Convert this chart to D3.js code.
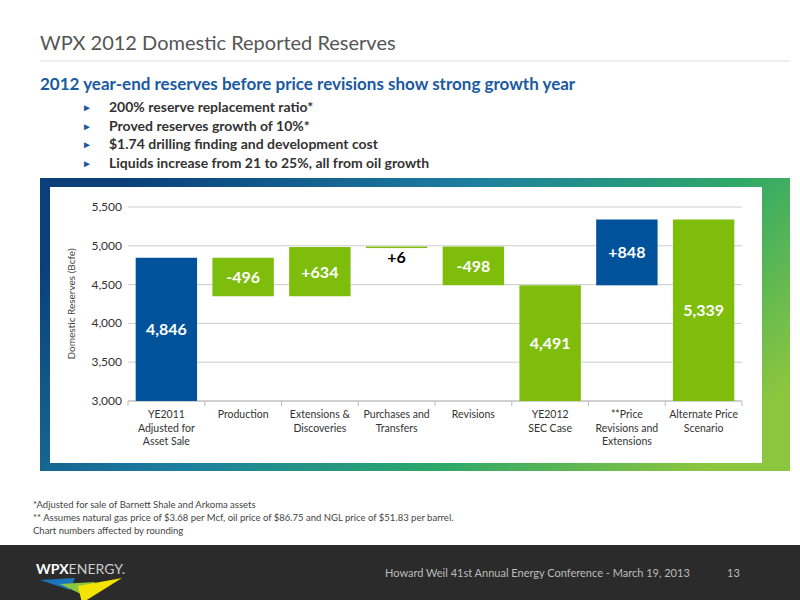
<!DOCTYPE html>
<html><head><meta charset="utf-8">
<script src="https://cdn.jsdelivr.net/npm/d3@7"></script>
<style>body{margin:0;background:#fff;font-family:Lato,"Open Sans",sans-serif}</style>
</head><body>
<svg id="vis" width="800" height="600"></svg>
<script>
// chart values
const categories = ["YE2011|Adjusted for|Asset Sale", "Production", "Extensions &|Discoveries", "Purchases and|Transfers", "Revisions", "YE2012|SEC Case", "**Price|Revisions and|Extensions", "Alternate Price|Scenario"];
const starts = [3000, 4846, 4350, 4984, 4990, 3000, 4491, 3000];
const ends = [4846, 4350, 4984, 4990, 4492, 4491, 5339, 5339];
const labels = ["4,846", "-496", "+634", "+6", "-498", "4,491", "+848", "5,339"];
const barColors = ["#00539b", "#7ebd0c", "#7ebd0c", "#7ebd0c", "#7ebd0c", "#7ebd0c", "#00539b", "#7ebd0c"];
const yTicks = [3000, 3500, 4000, 4500, 5000, 5500];
const bullets = ["200% reserve replacement ratio*", "Proved reserves growth of 10%*", "$1.74 drilling finding and development cost", "Liquids increase from 21 to 25%, all from oil growth"];
const notes = ["*Adjusted for sale of Barnett Shale and Arkoma assets", "** Assumes natural gas price of $3.68 per Mcf, oil price of $86.75 and NGL price of $51.83 per barrel.", "Chart numbers affected by rounding"];

let svg = d3.select("#vis");

// header
svg.append("text").attr("x", 40).attr("y", 50).attr("font-size", 20).attr("fill", "#555").text("WPX 2012 Domestic Reported Reserves");
svg.append("line").attr("x1", 40).attr("x2", 790).attr("y1", 61).attr("y2", 61).attr("stroke", "#ddd");
svg.append("text").attr("x", 40).attr("y", 90).attr("font-size", 17).attr("font-weight", "bold").attr("fill", "#1a5aa0")
  .text("2012 year-end reserves before price revisions show strong growth year");
bullets.forEach((b, i) => {
  let y = 112 + i * 18.5;
  svg.append("text").attr("x", 82).attr("y", y - 1).attr("font-size", 10).attr("fill", "#1a5aa0").text("►");
  svg.append("text").attr("x", 109).attr("y", y).attr("font-size", 14).attr("font-weight", "bold").attr("fill", "#333").text(b);
});

// frame
let defs = svg.append("defs");
let g1 = defs.append("linearGradient").attr("id", "fr").attr("x1", "0").attr("y1", "0.3").attr("x2", "1").attr("y2", "0.7");
g1.append("stop").attr("offset", "0").attr("stop-color", "#0a3f7a");
g1.append("stop").attr("offset", "0.4").attr("stop-color", "#1d7fa0");
g1.append("stop").attr("offset", "0.7").attr("stop-color", "#2ea868");
g1.append("stop").attr("offset", "1").attr("stop-color", "#8cc63f");
svg.append("rect").attr("x", 40).attr("y", 178).attr("width", 750).attr("height", 293).attr("fill", "url(#fr)");
svg.append("rect").attr("x", 50).attr("y", 187).attr("width", 712).attr("height", 276).attr("fill", "#fff");

let x = d3.scaleBand().domain(categories).range([128, 742]).paddingInner(0.2).paddingOuter(0.1);
let y = d3.scaleLinear().domain([3000, 5500]).range([401, 207]);

svg.append("g").selectAll("line").data(yTicks).join("line")
  .attr("x1", 128).attr("x2", 742).attr("y1", d => y(d)).attr("y2", d => y(d)).attr("stroke", "#ccc");
svg.append("g").selectAll("text").data(yTicks).join("text")
  .attr("x", 122).attr("y", d => y(d) + 4).attr("text-anchor", "end").attr("font-size", 12).attr("fill", "#333")
  .text(d3.format(","));
svg.append("text").attr("transform", "translate(75,304) rotate(-90)").attr("text-anchor", "middle")
  .attr("font-size", 10).attr("fill", "#444").text("Domestic Reserves (Bcfe)");

// x axis ticks
let step = x.step();
svg.append("line").attr("x1", 128).attr("x2", 742).attr("y1", 401).attr("y2", 401).attr("stroke", "#bbb");
svg.append("g").selectAll("line").data(d3.range(categories.length + 1)).join("line")
  .attr("x1", i => 128 + i * step).attr("x2", i => 128 + i * step).attr("y1", 401).attr("y2", 406).attr("stroke", "#bbb");

let bars = categories.map((c, i) => ({c, s: starts[i], e: ends[i], l: labels[i], col: barColors[i], i}));
svg.append("g").selectAll("rect").data(bars).join("rect")
  .attr("x", d => x(d.c)).attr("width", x.bandwidth())
  .attr("y", d => y(Math.max(d.s, d.e))).attr("height", d => Math.max(1.5, Math.abs(y(d.s) - y(d.e))))
  .attr("fill", d => d.col);

svg.append("g").selectAll("text").data(bars).join("text")
  .attr("x", d => x(d.c) + x.bandwidth() / 2)
  .attr("y", d => d.i === 3 ? y(d.e) + 16 : (y(d.s) + y(d.e)) / 2 + 6)
  .attr("text-anchor", "middle").attr("font-size", 16).attr("font-weight", "bold")
  .attr("fill", d => d.i === 3 ? "#000" : "#fff").text(d => d.l);

svg.append("g").selectAll("text").data(categories).join("text")
  .attr("x", d => x(d) + x.bandwidth() / 2).attr("y", 418)
  .attr("text-anchor", "middle").attr("font-size", 10.5).attr("fill", "#333")
  .each(function (d) {
    d.split("|").forEach((t, k) => d3.select(this).append("tspan").attr("x", x(d) + x.bandwidth() / 2).attr("dy", k ? 13.5 : 0).text(t));
  });

// notes
notes.forEach((n, i) => svg.append("text").attr("x", 33).attr("y", 508 + i * 13).attr("font-size", 9.5).attr("fill", "#444").text(n));

// footer
svg.append("rect").attr("x", 0).attr("y", 545).attr("width", 800).attr("height", 55).attr("fill", "#2b2b2b");
svg.append("text").attr("x", 36).attr("y", 574).attr("font-size", 14).attr("font-weight", "bold").attr("fill", "#fff")
  .text("WPX").append("tspan").attr("font-weight", "normal").attr("fill", "#ccc").text("ENERGY.");
svg.append("path").attr("d", "M40,580 L75,578 L70,590 Z").attr("fill", "#1b75bb");
svg.append("path").attr("d", "M60,584 L95,582 L85,596 Z").attr("fill", "#8cc63f");
svg.append("path").attr("d", "M78,586 L122,578 L82,603 Z").attr("fill", "#f2e400");
svg.append("text").attr("x", 385).attr("y", 577).attr("font-size", 11).attr("fill", "#bbb")
  .text("Howard Weil 41st Annual Energy Conference - March 19, 2013");
svg.append("text").attr("x", 727).attr("y", 577).attr("font-size", 11).attr("fill", "#bbb").text("13");
</script>
</body></html>
